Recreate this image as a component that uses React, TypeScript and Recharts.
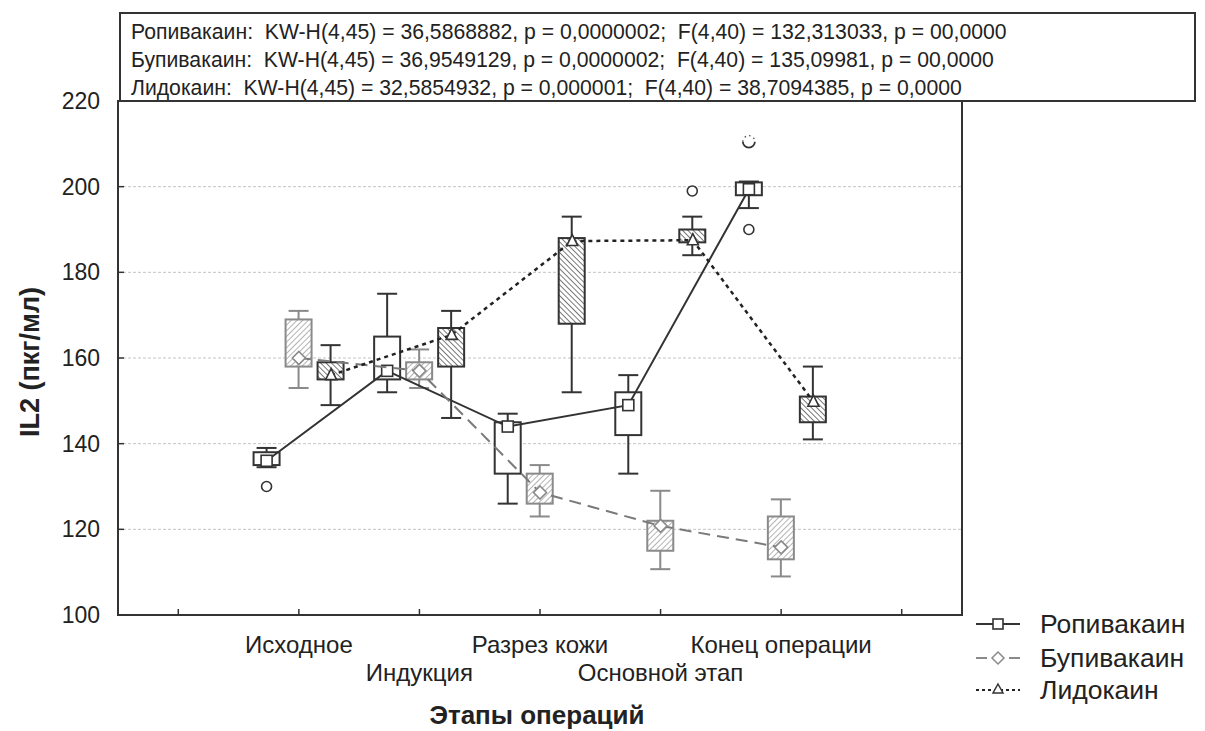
import React from "react";
import { ComposedChart, Bar, Scatter, XAxis, YAxis, CartesianGrid, ReferenceArea } from "recharts";

// ---------- data ----------
const stageKeys = ["pre", "s1", "s2", "s3", "s4", "s5", "post"];
const stageLabels = ["", "Исходное", "Индукция", "Разрез кожи", "Основной этап", "Конец операции", ""];
const labelRows = [0, 0, 1, 0, 1, 0, 0];
const yTicks = [100, 120, 140, 160, 180, 200, 220];

// Ропивакаин (stages Исходное..Конец операции)
const ropiMin = [134.5, 152, 126, 133, 195];
const ropiQ1 = [135, 155, 133, 142, 198];
const ropiMedian = [136, 157, 144, 149, 199.4];
const ropiQ3 = [138, 165, 145, 152, 201];
const ropiMax = [139, 175, 147, 156, 201.2];
const ropiOutliers = [[130], [], [], [], [190]];
const ropiExtremes = [[], [], [], [], [210.5]];

// Бупивакаин
const bupiMin = [153, 153, 123, 110.7, 109];
const bupiQ1 = [158, 155, 126, 115, 113];
const bupiMedian = [160, 157, 128.6, 120.8, 115.8];
const bupiQ3 = [169, 159, 133, 122, 123];
const bupiMax = [171, 162, 135, 129, 127];
const bupiOutliers = [[], [], [], [], []];
const bupiExtremes = [[], [], [], [], []];

// Лидокаин
const lidoMin = [149, 146, 152, 184, 141];
const lidoQ1 = [155, 158, 168, 187, 145];
const lidoMedian = [156, 165.4, 187.3, 187.5, 149.8];
const lidoQ3 = [159, 167, 188, 190, 151];
const lidoMax = [163, 171, 193, 193, 158];
const lidoOutliers = [[], [], [], [199], []];
const lidoExtremes = [[], [], [], [], []];

const statLines = [
  "Ропивакаин:  KW-H(4,45) = 36,5868882, p = 0,0000002;  F(4,40) = 132,313033, p = 00,0000",
  "Бупивакаин:  KW-H(4,45) = 36,9549129, p = 0,0000002;  F(4,40) = 135,09981, p = 00,0000",
  "Лидокаин:  KW-H(4,45) = 32,5854932, p = 0,000001;  F(4,40) = 38,7094385, p = 0,0000",
];
const seriesNames = ["Ропивакаин", "Бупивакаин", "Лидокаин"];

// ---------- build tables ----------
function stats(mins, q1s, meds, q3s, maxs, outs, exts, i) {
  return { min: mins[i], q1: q1s[i], median: meds[i], q3: q3s[i], max: maxs[i], outliers: outs[i], extremes: exts[i] };
}

const chartData = stageKeys.map((stage, idx) => {
  const i = idx - 1;
  const has = i >= 0 && i < 5;
  return {
    stage,
    ropi: has ? stats(ropiMin, ropiQ1, ropiMedian, ropiQ3, ropiMax, ropiOutliers, ropiExtremes, i) : null,
    bupi: has ? stats(bupiMin, bupiQ1, bupiMedian, bupiQ3, bupiMax, bupiOutliers, bupiExtremes, i) : null,
    lido: has ? stats(lidoMin, lidoQ1, lidoMedian, lidoQ3, lidoMax, lidoOutliers, lidoExtremes, i) : null,
  };
});

const OFFSET = 0.2675; // group offset in stage units (matches bar slots)
const ropiPoints = ropiMedian.map((v, i) => ({ x: i + 2 - OFFSET, y: v }));
const bupiPoints = bupiMedian.map((v, i) => ({ x: i + 2, y: v }));
const lidoPoints = lidoMedian.map((v, i) => ({ x: i + 2 + OFFSET, y: v }));

// ---------- styles ----------
const FONT = "'Liberation Sans', Arial, Helvetica, sans-serif";
const DARK = "#333333";
const GREY = "#8a8a8a";

const boxStyles = {
  ropi: { stroke: DARK, fill: "#ffffff" },
  bupi: { stroke: GREY, fill: "url(#hatchBupi)" },
  lido: { stroke: DARK, fill: "url(#hatchLido)" },
};

function makeBoxShape(key) {
  const st = boxStyles[key];
  return (props) => {
    const { x, y, width, height, payload } = props;
    const s = payload && payload[key];
    if (!s || !height || !isFinite(height)) return <g />;
    const k = height / (s.max - s.min);
    const py = (v) => y + (s.max - v) * k;
    const cx = x + width / 2;
    const cap = 10;
    return (
      <g>
        <line x1={cx} x2={cx} y1={py(s.max)} y2={py(s.q3)} stroke={st.stroke} strokeWidth={2} />
        <line x1={cx} x2={cx} y1={py(s.q1)} y2={py(s.min)} stroke={st.stroke} strokeWidth={2} />
        <line x1={cx - cap} x2={cx + cap} y1={py(s.max)} y2={py(s.max)} stroke={st.stroke} strokeWidth={2} />
        <line x1={cx - cap} x2={cx + cap} y1={py(s.min)} y2={py(s.min)} stroke={st.stroke} strokeWidth={2} />
        <rect x={x} y={py(s.q3)} width={width} height={py(s.q1) - py(s.q3)} fill={st.fill} stroke={st.stroke} strokeWidth={2} />
        {s.outliers.map((v, j) => (
          <circle key={"o" + j} cx={cx} cy={py(v)} r={5} fill="#fff" stroke={DARK} strokeWidth={1.6} />
        ))}
        {s.extremes.map((v, j) => (
          <g key={"e" + j}>
            <path d={`M ${cx - 6} ${py(v)} A 6 6 0 0 0 ${cx + 6} ${py(v)}`} fill="none" stroke={DARK} strokeWidth={1.8} />
            <path d={`M ${cx - 6} ${py(v)} A 6 6 0 0 1 ${cx + 6} ${py(v)}`} fill="none" stroke="#555" strokeWidth={1.3} strokeDasharray="1.5 3.2" />
          </g>
        ))}
      </g>
    );
  };
}

const SquareMarker = (p) => (
  <rect x={p.cx - 5.5} y={p.cy - 5.5} width={11} height={11} fill="#fff" stroke={DARK} strokeWidth={1.6} />
);
const DiamondMarker = (p) => (
  <path d={`M ${p.cx} ${p.cy - 6.5} L ${p.cx + 6.5} ${p.cy} L ${p.cx} ${p.cy + 6.5} L ${p.cx - 6.5} ${p.cy} Z`} fill="#fff" stroke={GREY} strokeWidth={1.6} />
);
const TriangleMarker = (p) => (
  <path d={`M ${p.cx} ${p.cy - 6.5} L ${p.cx + 5.5} ${p.cy + 4.5} L ${p.cx - 5.5} ${p.cy + 4.5} Z`} fill="#fff" stroke={DARK} strokeWidth={1.6} />
);

const YTick = (props) => {
  const { x, y, payload } = props;
  return (
    <g>
      <line x1={x} x2={x + 6} y1={y} y2={y} stroke={DARK} strokeWidth={1.5} />
      <text x={x - 18} y={y + 8} textAnchor="end" fontSize={23} fill="#222" fontFamily={FONT}>
        {payload.value}
      </text>
    </g>
  );
};

const XTick = (props) => {
  const { x, y, payload, index } = props;
  const idx = stageKeys.indexOf(payload.value);
  const i = idx >= 0 ? idx : index;
  const row = labelRows[i] || 0;
  return (
    <g>
      <line x1={x} x2={x} y1={y} y2={y - 6} stroke={DARK} strokeWidth={1.5} />
      <text x={x} y={y + (row === 0 ? 38 : 66)} textAnchor="middle" fontSize={24} fill="#222" fontFamily={FONT}>
        {stageLabels[i]}
      </text>
    </g>
  );
};

export default function App() {
  const W = 1205;
  const H = 731;
  return (
    <div style={{ position: "absolute", left: 0, top: 0, width: W, height: H, background: "#fff", overflow: "hidden" }}>
      <svg width={0} height={0} style={{ position: "absolute" }}>
        <defs>
          <pattern id="hatchBupi" patternUnits="userSpaceOnUse" width={4} height={4} patternTransform="rotate(45)">
            <rect width={4} height={4} fill="#fff" />
            <line x1={0} y1={0} x2={0} y2={4} stroke={GREY} strokeWidth={1.3} />
          </pattern>
          <pattern id="hatchLido" patternUnits="userSpaceOnUse" width={3.8} height={3.8} patternTransform="rotate(-45)">
            <rect width={3.8} height={3.8} fill="#fff" />
            <line x1={0} y1={0} x2={0} y2={3.8} stroke={DARK} strokeWidth={1.3} />
          </pattern>
        </defs>
      </svg>
      <ComposedChart
        width={W}
        height={H}
        data={chartData}
        margin={{ top: 101, right: 243, left: 58, bottom: 56 }}
        barGap={6}
        barSize={26}
      >
        <CartesianGrid xAxisId="num" vertical={false} stroke="#c4c4c4" strokeDasharray="3 2" strokeWidth={1} />
        <XAxis
          xAxisId="cat"
          dataKey="stage"
          type="category"
          interval={0}
          tickSize={0}
          tickMargin={0}
          axisLine={false}
          tickLine={false}
          height={60}
          tick={<XTick />}
        />
        <XAxis xAxisId="num" dataKey="x" type="number" domain={[0.5, 7.5]} allowDataOverflow hide />
        <YAxis
          type="number"
          domain={[100, 220]}
          ticks={yTicks}
          allowDataOverflow
          width={60}
          tickSize={0}
          tickMargin={0}
          axisLine={false}
          tickLine={false}
          tick={<YTick />}
        />
        <Bar xAxisId="cat" dataKey={(d) => (d.ropi ? [d.ropi.min, d.ropi.max] : null)} shape={makeBoxShape("ropi")} isAnimationActive={false} />
        <Bar xAxisId="cat" dataKey={(d) => (d.bupi ? [d.bupi.min, d.bupi.max] : null)} shape={makeBoxShape("bupi")} isAnimationActive={false} />
        <Bar xAxisId="cat" dataKey={(d) => (d.lido ? [d.lido.min, d.lido.max] : null)} shape={makeBoxShape("lido")} isAnimationActive={false} />
        <ReferenceArea xAxisId="num" x1={0.5} x2={7.5} y1={100} y2={220} fill="none" fillOpacity={0} stroke={DARK} strokeWidth={2} ifOverflow="visible" />
        <Scatter
          xAxisId="num"
          data={ropiPoints}
          dataKey="y"
          line={{ stroke: DARK, strokeWidth: 2 }}
          lineType="joint"
          shape={SquareMarker}
          isAnimationActive={false}
        />
        <Scatter
          xAxisId="num"
          data={bupiPoints}
          dataKey="y"
          line={{ stroke: "#7a7a7a", strokeWidth: 2, strokeDasharray: "12 7" }}
          lineType="joint"
          shape={DiamondMarker}
          isAnimationActive={false}
        />
        <Scatter
          xAxisId="num"
          data={lidoPoints}
          dataKey="y"
          line={{ stroke: "#222", strokeWidth: 2.5, strokeDasharray: "4 4" }}
          lineType="joint"
          shape={TriangleMarker}
          isAnimationActive={false}
        />
      </ComposedChart>
      <svg width={W} height={H} style={{ position: "absolute", left: 0, top: 0, pointerEvents: "none" }}>
        <rect x={120} y={13} width={1075} height={88} fill="#fff" stroke={DARK} strokeWidth={2} />
        {statLines.map((t, i) => (
          <text key={i} x={131} y={39 + i * 28} fontSize={21.2} fill="#222" fontFamily={FONT} style={{ whiteSpace: "pre" }}>
            {t}
          </text>
        ))}
        <text x={537} y={724} textAnchor="middle" fontSize={26} fontWeight="bold" fill="#222" fontFamily={FONT}>
          Этапы операций
        </text>
        <text
          x={0}
          y={0}
          transform="translate(39 362) rotate(-90)"
          textAnchor="middle"
          fontSize={27}
          fontWeight="bold"
          fill="#222"
          fontFamily={FONT}
        >
          IL2 (пкг/мл)
        </text>
        {/* legend */}
        <g>
          <line x1={976} x2={1020} y1={624} y2={624} stroke={DARK} strokeWidth={2} />
          <rect x={993} y={619} width={10} height={10} fill="#fff" stroke={DARK} strokeWidth={1.6} />
          <text x={1040} y={633} fontSize={26.5} fill="#222" fontFamily={FONT}>{seriesNames[0]}</text>

          <line x1={976} x2={987} y1={658} y2={658} stroke={GREY} strokeWidth={2} />
          <line x1={1009} x2={1020} y1={658} y2={658} stroke={GREY} strokeWidth={2} />
          <path d="M 998 652 L 1004 658 L 998 664 L 992 658 Z" fill="#fff" stroke={GREY} strokeWidth={1.5} />
          <text x={1040} y={667} fontSize={26.5} fill="#222" fontFamily={FONT}>{seriesNames[1]}</text>

          <line x1={976} x2={1020} y1={690} y2={690} stroke="#222" strokeWidth={2} strokeDasharray="3 3" />
          <path d="M 998 684 L 1003 693 L 993 693 Z" fill="#fff" stroke={DARK} strokeWidth={1.5} />
          <text x={1040} y={699} fontSize={26.5} fill="#222" fontFamily={FONT}>{seriesNames[2]}</text>
        </g>
      </svg>
    </div>
  );
}
